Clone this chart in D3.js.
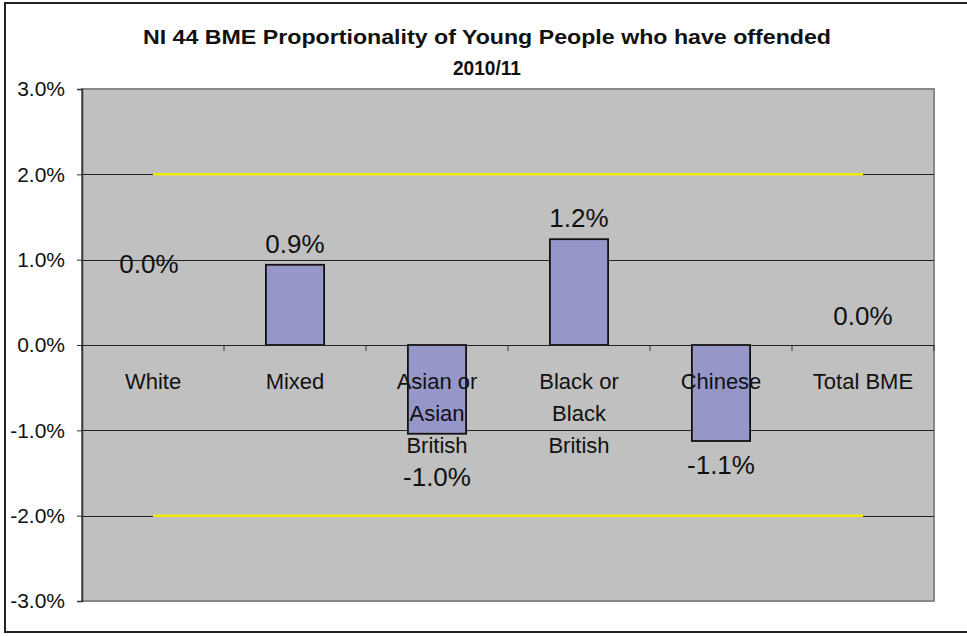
<!DOCTYPE html>
<html><head><meta charset="utf-8">
<script src="https://cdn.jsdelivr.net/npm/d3@7"></script>
<style>body{margin:0;background:#fff}svg{display:block}text{font-family:"Liberation Sans",Arial,sans-serif}</style>
</head><body>
<script>
const categories = ["White","Mixed","Asian or Asian British","Black or Black British","Chinese","Total BME"];
const categoryLines = [["White"],["Mixed"],["Asian or","Asian","British"],["Black or","Black","British"],["Chinese"],["Total BME"]];
const values = [0.0, 0.94, -1.04, 1.24, -1.125, 0.0];
const valueLabels = ["0.0%","0.9%","-1.0%","1.2%","-1.1%","0.0%"];
const labelAt = [0.84, 1.08, -1.65, 1.38, -1.51, 0.23];
const upperLimit = [2,2,2,2,2,2];
const lowerLimit = [-2,-2,-2,-2,-2,-2];
const yTicks = [3,2,1,0,-1,-2,-3];
const yTickLabels = ["3.0%","2.0%","1.0%","0.0%","-1.0%","-2.0%","-3.0%"];
const titleLines = ["NI 44 BME Proportionality of Young People who have offended","2010/11"];

(function(){
const W = 967, H = 636;
const svg = d3.select("body").append("svg").attr("width", W).attr("height", H);

// outer frame
svg.append("rect").attr("x",5).attr("y",3).attr("width",1000).attr("height",629)
  .attr("fill","#fff").attr("stroke","#222").attr("stroke-width",2);

const pL = 82, pR = 934, pT = 89, pB = 601;
const x = d3.scaleBand().domain(categories).range([pL, pR]).padding(0);
const y = d3.scaleLinear().domain([-3, 3]).range([pB, pT]);

// plot area
svg.append("rect").attr("x",pL).attr("y",pT).attr("width",pR-pL).attr("height",pB-pT)
  .attr("fill","#C0C0C0").attr("stroke","#888").attr("stroke-width",2);

// gridlines
svg.append("g").selectAll("line").data(yTicks.filter(d => d!==3 && d!==-3)).join("line")
  .attr("x1",pL).attr("x2",pR).attr("y1",d=>Math.round(y(d))+0.5).attr("y2",d=>Math.round(y(d))+0.5)
  .attr("stroke","#222").attr("stroke-width",1);

// y axis
const yAxis = d3.axisLeft(y).tickValues(yTicks).tickSize(5).tickPadding(12)
  .tickFormat((d,i) => yTickLabels[i]);
const gy = svg.append("g").attr("transform",`translate(${pL},0)`).call(yAxis);
gy.select(".domain").attr("stroke","#333").attr("stroke-width",1.5);
gy.selectAll(".tick line").attr("stroke","#333");
gy.selectAll(".tick text").attr("font-size",21).attr("fill","#111").attr("font-family","Liberation Sans, Arial, sans-serif");

// upper/lower limit lines (yellow)
const line = d3.line().x((d,i)=>x(categories[i])+x.bandwidth()/2).y(d=>y(d));
[upperLimit, lowerLimit].forEach(s => {
  svg.append("path").datum(s).attr("d", line).attr("fill","none")
    .attr("stroke","#F2EA00").attr("stroke-width",2.5);
});

// bars
const barFrac = 0.41;
const bw = x.bandwidth()*barFrac;
svg.append("g").selectAll("rect").data(values.map((v,i)=>({v,c:categories[i]})).filter(d=>d.v!==0)).join("rect")
  .attr("x", d => x(d.c) + (x.bandwidth()-bw)/2)
  .attr("y", d => y(Math.max(0,d.v)))
  .attr("width", bw)
  .attr("height", d => Math.abs(y(d.v)-y(0)))
  .attr("fill","#9696C8").attr("stroke","#111").attr("stroke-width",1.8);

// x axis at zero with ticks
const xTickPos = categories.map(c => x(c)).concat([pR]);
svg.append("g").selectAll("line").data(xTickPos).join("line")
  .attr("x1",d=>d).attr("x2",d=>d).attr("y1",y(0)).attr("y2",y(0)+6)
  .attr("stroke","#333").attr("stroke-width",1);
svg.append("line").attr("x1",pL).attr("x2",pR).attr("y1",y(0)+0.5).attr("y2",y(0)+0.5)
  .attr("stroke","#222").attr("stroke-width",1.2);

// category labels
const cl = svg.append("g");
categoryLines.forEach((lines,i) => {
  const t = cl.append("text").attr("text-anchor","middle").attr("font-size",22).attr("fill","#111");
  lines.forEach((ln,j) => {
    t.append("tspan").attr("x", x(categories[i])+x.bandwidth()/2).attr("y", y(0)+44+j*32).text(ln);
  });
});

// data labels
svg.append("g").selectAll("text").data(valueLabels).join("text")
  .attr("x",(d,i)=>x(categories[i])+x.bandwidth()/2 - (i===0?4:0))
  .attr("y",(d,i)=>y(labelAt[i]))
  .attr("text-anchor","middle").attr("font-size",26).attr("fill","#111")
  .text(d=>d);

// title
svg.append("text").attr("x",487).attr("y",44).attr("text-anchor","middle")
  .attr("font-size",20.5).attr("font-weight","bold").attr("fill","#111")
  .attr("textLength",688).attr("lengthAdjust","spacingAndGlyphs").text(titleLines[0]);
svg.append("text").attr("x",487).attr("y",75).attr("text-anchor","middle")
  .attr("font-size",20.5).attr("font-weight","bold").attr("fill","#111")
  .attr("textLength",68).attr("lengthAdjust","spacingAndGlyphs").text(titleLines[1]);
})();
</script>
</body></html>
